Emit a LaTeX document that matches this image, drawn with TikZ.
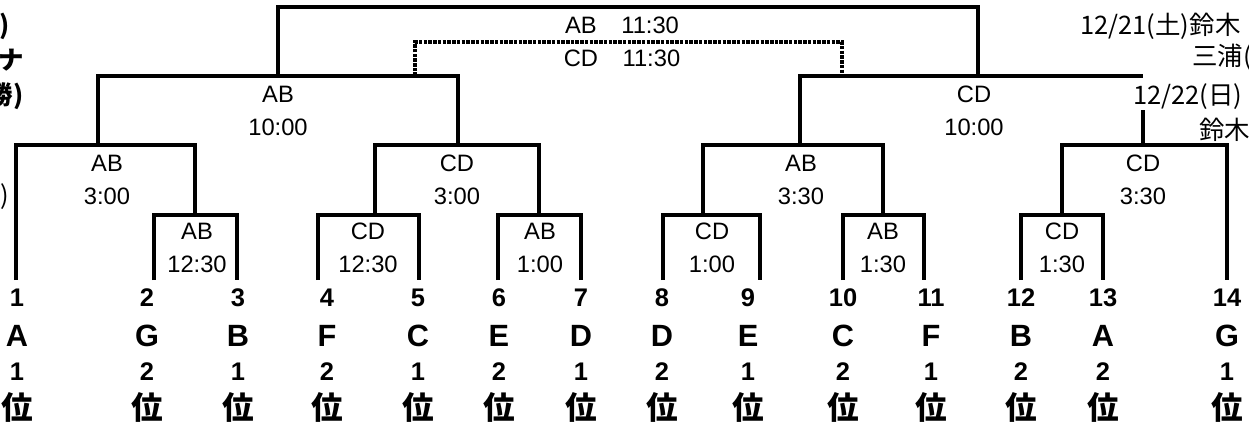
\documentclass[tikz,border=0pt]{standalone}
\usepackage{fontspec}
\setmainfont{Liberation Sans}
\newfontfamily\jp{Noto Sans CJK JP}
\usetikzlibrary{positioning}
\tikzset{
x=0.02cm, y=-0.02cm, % one unit is one pixel of the sheet, y runs downwards
bracket/.style={line width=2pt}, % the lines of the draw
pair/.style={line width=1.8pt, dash pattern=on 2pt off 0.7pt}, % the dotted line of the second game
game/.style={align=center, inner sep=0pt, font=\fontsize{13.5}{18.5}\selectfont}, % court and time of a game
seed/.style={inner sep=0pt, font=\fontsize{14.5}{14.5}\selectfont\bfseries}, % draw number and place
team/.style={inner sep=0pt, font=\fontsize{17.5}{17.5}\selectfont\bfseries}, % letter of the group
rank/.style={inner sep=0pt, font=\fontsize{18}{18}\selectfont\jp\bfseries}, % the kanji under the place
note/.style={inner sep=0pt, font=\fontsize{14.5}{14.5}\selectfont\jp}, % texts at the sides
}
\begin{document}
\begin{tikzpicture}
\clip (0,0) rectangle (1249,423);
\fill[white] (0,0) rectangle (1249,423);

% teams: line x / label x / number / group / place
\foreach \lx/\x/\n/\t/\r in {16/17/1/A/1, 154/147/2/G/2, 237/238/3/B/1, 318/327/4/F/2,
    419/418/5/C/1, 498/499/6/E/2, 581/581/7/D/1, 663/662/8/D/2, 760/748/9/E/1,
    843/843/10/C/2, 924/931/11/F/1, 1021/1021/12/B/2, 1103/1103/13/A/2, 1227/1227/14/G/1} {
  \coordinate (l\n) at (\lx,280);
  \node[seed] (n\n) at (\x,298) {\n};
  \node[team] (t\n) at (\x,336) {\t};
  \node[seed] (p\n) at (\x,372) {\r};
  \node[rank] (k\n) at (\x,407) {位};
}

% junctions of the draw
\coordinate (r23) at (195,215);
\coordinate (r45) at (375,215);
\coordinate (r67) at (539,215);
\coordinate (r89) at (703,215);
\coordinate (r1011) at (883,215);
\coordinate (r1213) at (1062,215);
\coordinate (q1) at (98,145);
\coordinate (q2) at (458,145);
\coordinate (q3) at (800,145);
\coordinate (q4) at (1143,145);
\coordinate (s1) at (278,76);
\coordinate (s2) at (978,76);
\coordinate (fin) at (622,7);
\coordinate (thl) at (415,76);
\coordinate (thr) at (842,76);
\coordinate (th) at (622,42);

% side texts
\node[note, anchor=west] (d21) at (1080,26) {12/21(土)鈴木};
\node[note, anchor=west] (miura) at (1192,57) {三浦(};
\node[note, anchor=west] (d22) at (1133,97) {12/22(日)};
\node[note, anchor=west] (suzuki) at (1199,130) {鈴木};
\node[note, anchor=east, font=\fontsize{14.5}{14.5}\selectfont\jp\bfseries] (lt1) at (10,26) {)};
\node[note, anchor=east, font=\fontsize{14.5}{14.5}\selectfont\jp\bfseries] (lt2) at (24,60) {ーナ};
\node[note, anchor=east, font=\fontsize{14.5}{14.5}\selectfont\jp\bfseries] (lt3) at (24,96) {勝)};
\node[note, anchor=east] (lt4) at (9,197) {)};

% games
\node[game] (gfin) at (622,25) {AB\hspace{14pt}11:30};
\node[game] (gth) at (622,58) {CD\hspace{14pt}11:30};
\node[game] (gs1) at (278,111) {AB\\10:00};
\node[game] (gs2) at (974,111) {CD\\10:00};
\node[game] (gq1) at (107,180) {AB\\3:00};
\node[game] (gq2) at (457,180) {CD\\3:00};
\node[game] (gq3) at (801,180) {AB\\3:30};
\node[game] (gq4) at (1143,180) {CD\\3:30};
\node[game] (g23) at (197,248) {AB\\12:30};
\node[game] (g45) at (368,248) {CD\\12:30};
\node[game] (g67) at (540,248) {AB\\1:00};
\node[game] (g89) at (712,248) {CD\\1:00};
\node[game] (g1011) at (883,248) {AB\\1:30};
\node[game] (g1213) at (1062,248) {CD\\1:30};

\draw[bracket] (l2) |- (r23) -| (l3);
\draw[bracket] (l4) |- (r45) -| (l5);
\draw[bracket] (l6) |- (r67) -| (l7);
\draw[bracket] (l8) |- (r89) -| (l9);
\draw[bracket] (l10) |- (r1011) -| (l11);
\draw[bracket] (l12) |- (r1213) -| (l13);
\draw[bracket] (l1) |- (q1) -| (r23);
\draw[bracket] (r45) |- (q2) -| (r67);
\draw[bracket] (r89) |- (q3) -| (r1011);
\draw[bracket] (r1213) |- (q4) -| (l14);
\draw[bracket] (q1) |- (s1) -| (q2);
\draw[bracket] (q3) |- (s2) -- (s2 -| q4);
\draw[bracket] (q4) -- (q4 |- d22.south);
\draw[bracket] (s1) |- (fin) -| (s2);
\draw[pair] (thl) |- (th) -| (thr);
\end{tikzpicture}
\end{document}
